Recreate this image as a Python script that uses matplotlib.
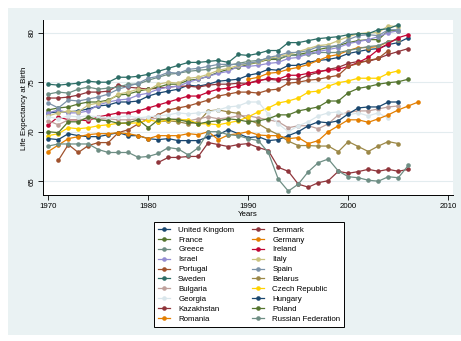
import matplotlib
matplotlib.use("Agg")
import matplotlib.pyplot as plt
from matplotlib.patches import Rectangle

plt.rcParams['font.family'] = ['Liberation Sans', 'DejaVu Sans']

# Life expectancy at birth, by country (first year, then yearly values)
uk_start, uk = 1970, [71.9, 72.0, 72.0, 72.1, 72.3, 72.6, 72.7, 73.0, 73.0, 73.1,
                      73.6, 73.9, 74.1, 74.3, 74.7, 74.6, 74.8, 75.1, 75.2, 75.3,
                      75.7, 75.9, 76.3, 76.2, 76.7, 76.7, 77.0, 77.2, 77.3, 77.5,
                      77.9, 78.1, 78.3, 78.4, 78.8, 79.0, 79.5]
denmark_start, denmark = 1970, [73.4, 73.4, 73.5, 73.7, 74.0, 74.0, 74.1, 74.7, 74.5, 74.4,
                                74.3, 74.4, 74.5, 74.6, 74.6, 74.5, 74.7, 74.8, 74.8, 74.9,
                                74.9, 75.2, 75.3, 75.2, 75.3, 75.3, 75.7, 76.0, 76.3, 76.5,
                                76.9, 77.1, 77.1, 77.4, 77.8, 78.1, 78.4]
france_start, france = 1970, [72.2, 72.4, 72.5, 72.8, 73.0, 73.0, 73.2, 73.7, 73.8, 74.1,
                              74.3, 74.5, 74.8, 74.8, 75.2, 75.3, 75.6, 76.0, 76.3, 76.5,
                              76.8, 77.0, 77.3, 77.3, 77.7, 77.8, 78.0, 78.3, 78.5, 78.7,
                              79.0, 79.2, 79.3, 79.3, 80.2, 80.2]
germany_start, germany = 1990, [75.3, 75.5, 75.9, 76.0, 76.3, 76.5, 76.8, 77.2, 77.6, 77.8,
                                78.2, 78.5, 78.5, 78.6, 79.1, 79.3]
greece_start, greece = 1970, [73.8, 74.0, 73.9, 74.3, 74.5, 74.3, 74.4, 74.5, 74.8, 74.8,
                              75.2, 75.5, 75.8, 75.9, 76.1, 76.2, 76.3, 76.5, 76.7, 76.9,
                              77.1, 77.2, 77.4, 77.4, 77.7, 77.7, 77.8, 78.0, 78.0, 78.0,
                              78.2, 78.4, 78.6, 78.7, 79.1, 79.3]
ireland_start, ireland = 1970, [70.7, 71.5, 71.2, 71.2, 71.1, 71.5, 71.7, 71.9, 71.9, 72.1,
                                72.4, 72.7, 73.0, 73.3, 73.6, 73.6, 74.0, 74.3, 74.4, 74.6,
                                74.9, 75.1, 75.4, 75.3, 75.7, 75.7, 75.9, 76.1, 76.2, 76.3,
                                76.6, 77.0, 77.5, 78.3, 78.9, 79.5, 79.8]
israel_start, israel = 1970, [71.9, 72.2, 71.9, 71.9, 72.1, 72.7, 73.0, 73.2, 73.3, 73.7,
                              73.9, 74.3, 74.5, 74.6, 75.0, 75.3, 75.6, 75.9, 76.1, 76.6,
                              76.6, 76.7, 76.9, 77.0, 77.4, 77.5, 77.9, 78.1, 78.3, 78.5,
                              78.9, 79.1, 79.3, 79.6, 80.0, 80.2]
italy_start, italy = 1970, [71.6, 71.9, 72.1, 72.0, 72.7, 72.9, 73.1, 73.8, 74.0, 74.3,
                            74.2, 74.8, 75.0, 74.9, 75.4, 75.5, 75.8, 76.2, 76.4, 76.7,
                            76.9, 77.0, 77.4, 77.6, 77.8, 78.1, 78.4, 78.7, 78.8, 79.2,
                            79.6, 79.9, 80.0, 80.0, 80.7, 80.6]
portugal_start, portugal = 1971, [67.1, 68.7, 67.9, 68.6, 68.9, 68.9, 69.9, 70.2, 70.8,
                                  71.3, 71.7, 72.2, 72.4, 72.6, 72.9, 73.2, 73.6, 73.8, 74.0,
                                  74.0, 73.9, 74.2, 74.3, 74.9, 75.0, 75.2, 75.3, 75.5, 75.7,
                                  76.6, 76.9, 77.2, 77.4, 78.2]
spain_start, spain = 1970, [72.9, 72.4, 73.2, 73.1, 73.3, 73.5, 73.8, 74.3, 74.6, 74.9,
                            75.4, 75.6, 76.0, 75.9, 76.3, 76.4, 76.6, 76.8, 76.8, 76.8,
                            76.9, 77.1, 77.5, 77.7, 78.0, 78.0, 78.2, 78.6, 78.6, 78.7,
                            79.3, 79.7, 79.8, 79.7, 80.3, 80.3]
sweden_start, sweden = 1970, [74.8, 74.7, 74.8, 74.9, 75.1, 75.0, 75.0, 75.5, 75.5, 75.6,
                              75.8, 76.1, 76.4, 76.7, 77.0, 77.0, 77.1, 77.2, 77.0, 77.8,
                              77.7, 77.9, 78.2, 78.2, 79.0, 79.0, 79.2, 79.4, 79.5, 79.6,
                              79.8, 79.9, 79.9, 80.3, 80.4, 80.8]
belarus_start, belarus = 1981, [71.0, 71.1, 71.0, 70.8, 71.0, 72.1, 72.2, 72.0, 71.85, 71.2,
                                70.8, 70.2, 69.7, 69.05, 68.6, 68.6, 68.55, 68.55, 67.98,
                                69.0, 68.5, 68.0, 68.55, 69.0, 68.8]
bulgaria_start, bulgaria = 1970, [71.1, 70.7, 71.2, 71.2, 71.3, 71.3, 71.3, 71.2, 71.2, 71.3,
                                  71.2, 71.4, 71.2, 71.3, 71.1, 71.3, 71.5, 71.3, 71.4, 71.6,
                                  71.6, 71.4, 71.2, 71.0, 70.4, 70.6, 70.6, 70.3, 70.8, 71.7,
                                  71.95, 72.1, 72.1, 72.3, 72.5, 72.6]
czech_start, czech = 1970, [69.6, 69.8, 70.4, 70.3, 70.4, 70.6, 70.7, 70.85, 70.85, 70.9,
                            71.2, 71.0, 71.2, 71.2, 71.2, 70.8, 70.8, 70.7, 70.9, 71.1,
                            71.5, 72.0, 72.4, 72.9, 73.1, 73.4, 74.0, 74.1, 74.6, 74.95,
                            75.13, 75.4, 75.4, 75.4, 75.9, 76.15]
georgia_start, georgia = 1970, [71.5, 71.3, 71.6, 71.5, 71.6, 71.5, 71.4, 71.5, 71.6, 71.4,
                                71.5, 71.6, 71.7, 71.9, 71.8, 71.9, 72.0, 72.2, 72.5, 72.6,
                                73.0, 73.0, 71.8, 70.8, 70.0, 70.6, 71.0, 71.6, 71.9, 72.0,
                                71.7, 71.9, 71.6, 71.9, 71.35]
hungary_start, hungary = 1970, [69.3, 69.2, 69.8, 69.6, 69.5, 69.5, 69.7, 69.9, 69.6, 69.6,
                                69.3, 69.2, 69.3, 69.1, 69.1, 69.1, 69.5, 69.7, 70.2, 69.8,
                                69.4, 69.5, 69.1, 69.2, 69.6, 70.0, 70.6, 71.0, 70.9, 71.1,
                                71.8, 72.4, 72.5, 72.5, 73.0, 73.0]
kazakhstan_start, kazakhstan = 1981, [66.9, 67.4, 67.4, 67.5, 67.5, 68.9, 68.7, 68.5, 68.7,
                                      68.8, 68.4, 68.1, 66.4, 66.0, 64.7, 64.4, 64.85, 65.05,
                                      66.0, 65.8, 65.97, 66.2, 66.0, 66.2, 66.0, 66.2]
poland_start, poland = 1970, [70.0, 69.9, 71.0, 71.0, 71.5, 71.2, 71.1, 70.85, 70.9, 71.2,
                              70.4, 71.2, 71.3, 71.2, 71.0, 70.8, 71.0, 71.1, 71.3, 71.2,
                              71.0, 71.1, 71.3, 71.7, 71.7, 72.1, 72.3, 72.5, 73.1, 73.1,
                              73.94, 74.38, 74.55, 74.8, 74.95, 75.05, 75.3]
romania_start, romania = 1970, [68.0, 68.65, 69.3, 69.5, 69.7, 69.8, 69.8, 69.9, 69.8, 69.6,
                                69.3, 69.6, 69.6, 69.6, 69.8, 69.7, 70.0, 69.2, 69.67, 69.8,
                                70.0, 69.67, 69.6, 69.6, 69.3, 69.4, 68.8, 69.1, 70.0, 70.6,
                                71.2, 71.2, 70.95, 71.3, 71.7, 72.2, 72.6, 73.0]
russia_start, russia = 1970, [68.55, 68.76, 68.76, 68.76, 68.76, 68.2, 67.9, 67.9, 67.9, 67.41,
                              67.5, 67.8, 68.4, 68.25, 67.65, 68.38, 70.0, 70.0, 69.7, 69.6,
                              69.3, 69.1, 67.9, 65.2, 64.0, 64.7, 65.96, 66.87, 67.24, 66.03,
                              65.45, 65.35, 65.1, 65.0, 65.45, 65.35, 66.6]

countries = ["United Kingdom", "Denmark", "France", "Germany", "Greece", "Ireland",
             "Israel", "Italy", "Portugal", "Spain", "Sweden", "Belarus", "Bulgaria",
             "Czech Republic", "Georgia", "Hungary", "Kazakhstan", "Poland", "Romania",
             "Russian Federation"]
series = [(uk_start, uk), (denmark_start, denmark), (france_start, france),
          (germany_start, germany), (greece_start, greece), (ireland_start, ireland),
          (israel_start, israel), (italy_start, italy), (portugal_start, portugal),
          (spain_start, spain), (sweden_start, sweden), (belarus_start, belarus),
          (bulgaria_start, bulgaria), (czech_start, czech), (georgia_start, georgia),
          (hungary_start, hungary), (kazakhstan_start, kazakhstan), (poland_start, poland),
          (romania_start, romania), (russia_start, russia)]

x_ticks = [1970, 1980, 1990, 2000, 2010]
y_ticks = [65, 70, 75, 80]

# Stata s2color palette (cycles after 15 colours)
palette = ["#1A476F", "#90353B", "#55752F", "#E37E00", "#6E8E84", "#C10534",
           "#938DD2", "#CAC27E", "#A0522D", "#7B92A8", "#2D6D66", "#9C8847",
           "#BFA19C", "#FFD200", "#D9E6EB"]

W, H = 461, 341
fig = plt.figure(figsize=(W / 100, H / 100), dpi=100, facecolor="white")

# light graph region behind the plot
fig.patches.append(Rectangle((8 / W, 6 / H), (W - 8) / W, (H - 14) / H,
                             transform=fig.transFigure, facecolor="#EAF2F3",
                             edgecolor="none", zorder=-10))

L, R, T, B = 43, 453, 20, 195
ax = fig.add_axes([L / W, 1 - B / H, (R - L) / W, (B - T) / H])
ax.set_zorder(2)
ax.set_facecolor("white")

for i, (name, (start, vals)) in enumerate(zip(countries, series)):
    yrs = list(range(start, start + len(vals)))
    ax.plot(yrs, vals, color=palette[i % 15], lw=0.9, marker="o", ms=3.3,
            mec=palette[i % 15], mew=0, label=name, zorder=3 + i * 0.01)

x0 = 1970 - (48.3 - L) / 10.0
ax.set_xlim(x0, x0 + (R - L) / 10.0)
y70 = 131.7
ax.set_ylim(70 - (B - y70) / 9.9, 70 + (y70 - T) / 9.9)

ax.set_xticks(x_ticks)
ax.set_yticks(y_ticks)
ax.tick_params(axis="both", labelsize=5.7, length=3.5, width=0.6, color="black",
               pad=2)
ax.tick_params(axis="y", labelrotation=90)
for lab in ax.get_yticklabels():
    lab.set_va("center")
ax.grid(axis="y", color="#E3ECEF", lw=0.8)
ax.set_axisbelow(True)
for s in ["top", "right"]:
    ax.spines[s].set_visible(False)
for s in ["left", "bottom"]:
    ax.spines[s].set_linewidth(0.7)

fig.text(25 / W, 1 - 108 / H, "Life Expectancy at Birth", rotation=90,
         ha="center", va="center", fontsize=5.7)
fig.text(248 / W, 1 - 214 / H, "Years", ha="center", va="center", fontsize=5.7)

# legend laid out row by row in two columns
handles, labels = ax.get_legend_handles_labels()
order = list(range(0, 20, 2)) + list(range(1, 20, 2))
leg = fig.legend([handles[k] for k in order], [labels[k] for k in order],
                 ncol=2, loc="center", bbox_to_anchor=(249 / W, 1 - 274.5 / H),
                 fontsize=5.7, frameon=True, fancybox=False, edgecolor="black",
                 framealpha=1, handlelength=1.6, handletextpad=1.0,
                 columnspacing=2.2, labelspacing=0.3, borderpad=0.5)
leg.get_frame().set_linewidth(0.7)

fig.savefig("out.png", dpi=100, facecolor="white")
